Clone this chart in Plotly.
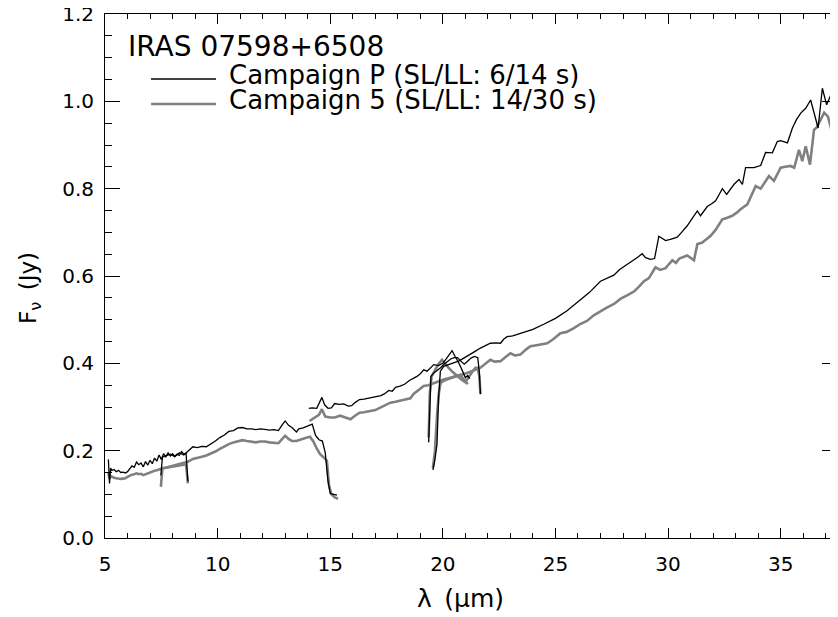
import plotly.graph_objects as go

# ---------------- data (wavelength in micron, flux in Jy) ----------------
# Campaign P (black)
wl_p_sl2 = [5.15, 5.20, 5.25, 5.3, 5.4, 5.5, 5.6, 5.7, 5.8, 5.9, 6.0, 6.1, 6.2, 6.3, 6.4, 6.5, 6.6, 6.7, 6.8, 6.9,
            7.0, 7.1, 7.2, 7.3, 7.4, 7.5, 7.6, 7.7, 7.8, 7.9, 8.0, 8.1, 8.2, 8.3, 8.4, 8.5, 8.6, 8.68]
fx_p_sl2 = [0.180, 0.125, 0.160, 0.155, 0.157, 0.152, 0.155, 0.150, 0.151, 0.149, 0.152, 0.158, 0.165, 0.162,
            0.174, 0.168, 0.172, 0.163, 0.175, 0.167, 0.178, 0.170, 0.183, 0.176, 0.190, 0.180, 0.193, 0.186,
            0.195, 0.188, 0.193, 0.187, 0.192, 0.189, 0.198, 0.192, 0.194, 0.130]

wl_p_sl1 = [7.48, 7.55, 7.7, 7.9, 8.1, 8.3, 8.5, 8.7, 8.9, 9.1, 9.3, 9.5, 9.7, 9.9, 10.1, 10.3, 10.5, 10.7, 10.9,
            11.1, 11.3, 11.5, 11.7, 11.9, 12.1, 12.3, 12.5, 12.7, 12.85, 13.0, 13.15, 13.3, 13.5, 13.6, 13.8,
            14.0, 14.2, 14.35, 14.5, 14.65, 14.78, 14.9, 15.0, 15.15, 15.3]
fx_p_sl1 = [0.143, 0.185, 0.188, 0.192, 0.186, 0.195, 0.190, 0.200, 0.209, 0.207, 0.210, 0.209, 0.215, 0.222,
            0.230, 0.236, 0.244, 0.246, 0.252, 0.253, 0.250, 0.250, 0.248, 0.250, 0.249, 0.247, 0.248, 0.246,
            0.258, 0.268, 0.258, 0.253, 0.243, 0.250, 0.252, 0.256, 0.261, 0.235, 0.225, 0.222, 0.195, 0.130,
            0.102, 0.100, 0.098]

wl_p_ll2 = [14.05, 14.2, 14.4, 14.52, 14.63, 14.75, 14.9, 15.05, 15.2, 15.4, 15.6, 15.8, 15.95, 16.1, 16.3, 16.5,
            16.7, 16.9, 17.1, 17.25, 17.4, 17.6, 17.75, 17.9, 18.1, 18.3, 18.5, 18.7, 18.85, 19.0, 19.15, 19.3,
            19.45, 19.6, 19.8, 20.0, 20.15, 20.3, 20.41, 20.55, 20.7, 20.85, 21.0, 21.1, 21.2]
fx_p_ll2 = [0.297, 0.298, 0.297, 0.310, 0.322, 0.305, 0.297, 0.298, 0.308, 0.306, 0.307, 0.302, 0.303, 0.310,
            0.317, 0.318, 0.320, 0.322, 0.324, 0.326, 0.330, 0.338, 0.336, 0.345, 0.348, 0.352, 0.360, 0.365,
            0.370, 0.376, 0.385, 0.382, 0.390, 0.397, 0.395, 0.400, 0.410, 0.420, 0.429, 0.415, 0.402, 0.385,
            0.367, 0.372, 0.365]

wl_p_ll3 = [19.37, 19.42, 19.47, 19.6, 19.75, 19.9, 20.05, 20.2, 20.35, 20.5, 20.65, 20.8, 20.95, 21.1, 21.25,
            21.4, 21.55, 21.62, 21.67]
fx_p_ll3 = [0.219, 0.330, 0.370, 0.378, 0.383, 0.390, 0.398, 0.404, 0.410, 0.413, 0.413, 0.405, 0.398, 0.405,
            0.412, 0.416, 0.413, 0.380, 0.329]

wl_p_ll1 = [19.56, 19.65, 19.74, 19.81, 19.89, 20.04, 20.25, 20.48, 20.7, 20.93, 21.22, 21.45, 21.67, 21.9,
            22.11, 22.35, 22.56, 22.7, 22.85, 23.1, 23.44, 23.7, 24.0, 24.5, 25.0, 25.5, 26.0, 26.5, 27.0, 27.3,
            27.59, 27.85, 28.11, 28.3, 28.48, 28.65, 28.85, 29.0, 29.22, 29.4, 29.59, 29.75, 29.89, 30.1, 30.41,
            30.6, 30.85, 31.05, 31.3, 31.44, 31.6, 31.74, 31.95, 32.11, 32.25, 32.41, 32.6, 32.75, 32.93, 33.15,
            33.3, 33.44, 33.6, 33.81, 34.11, 34.33, 34.63, 34.85, 35.0, 35.3, 35.52, 35.7, 35.89, 36.11, 36.33,
            36.48, 36.66, 36.85, 37.04, 37.22, 37.37, 37.52, 37.6]
fx_p_ll1 = [0.156, 0.180, 0.215, 0.321, 0.382, 0.393, 0.397, 0.401, 0.405, 0.412, 0.420, 0.428, 0.435, 0.440,
            0.446, 0.447, 0.446, 0.455, 0.461, 0.463, 0.469, 0.474, 0.478, 0.490, 0.503, 0.520, 0.540, 0.562,
            0.588, 0.595, 0.602, 0.615, 0.624, 0.630, 0.636, 0.643, 0.651, 0.642, 0.638, 0.640, 0.691, 0.686,
            0.681, 0.684, 0.689, 0.700, 0.715, 0.730, 0.749, 0.738, 0.750, 0.759, 0.766, 0.772, 0.785, 0.800,
            0.787, 0.798, 0.810, 0.821, 0.810, 0.848, 0.848, 0.848, 0.853, 0.883, 0.882, 0.908, 0.910, 0.905,
            0.939, 0.958, 0.973, 0.984, 1.003, 0.973, 0.939, 1.030, 0.992, 1.014, 1.022, 1.033, 1.065]

# Campaign 5 (grey)
wl_5_sl2 = [5.15, 5.2, 5.25, 5.3, 5.4, 5.5, 5.6, 5.7, 5.8, 5.9, 6.0, 6.1, 6.2, 6.3, 6.4, 6.5, 6.6, 6.7, 6.8, 6.9,
            7.0, 7.1, 7.2, 7.3, 7.4, 7.5, 7.6, 7.7, 7.8, 7.9, 8.0, 8.1, 8.2, 8.3, 8.4, 8.5, 8.6, 8.68]
fx_5_sl2 = [0.150, 0.135, 0.142, 0.140, 0.138, 0.137, 0.136, 0.135, 0.136, 0.137, 0.140, 0.143, 0.145, 0.146,
            0.148, 0.146, 0.147, 0.144, 0.146, 0.149, 0.150, 0.152, 0.154, 0.155, 0.157, 0.158, 0.160, 0.161,
            0.162, 0.162, 0.164, 0.165, 0.165, 0.166, 0.167, 0.168, 0.168, 0.125]

wl_5_sl1 = [7.48, 7.55, 7.7, 7.9, 8.1, 8.3, 8.5, 8.7, 8.9, 9.1, 9.3, 9.5, 9.7, 9.9, 10.1, 10.3, 10.5, 10.7, 10.9,
            11.1, 11.3, 11.5, 11.7, 11.9, 12.1, 12.3, 12.5, 12.7, 12.85, 13.0, 13.15, 13.3, 13.5, 13.7, 13.9,
            14.1, 14.25, 14.4, 14.55, 14.7, 14.85, 14.95, 15.05, 15.2, 15.35]
fx_5_sl1 = [0.117, 0.160, 0.161, 0.164, 0.166, 0.170, 0.172, 0.175, 0.181, 0.183, 0.186, 0.189, 0.193, 0.198,
            0.204, 0.210, 0.215, 0.219, 0.222, 0.224, 0.222, 0.220, 0.219, 0.221, 0.221, 0.219, 0.218, 0.217,
            0.226, 0.234, 0.227, 0.222, 0.222, 0.226, 0.229, 0.232, 0.221, 0.205, 0.192, 0.185, 0.177, 0.120,
            0.100, 0.093, 0.090]

wl_5_ll2 = [14.08, 14.3, 14.5, 14.63, 14.78, 15.0, 15.2, 15.44, 15.7, 15.9, 16.1, 16.3, 16.5, 16.8, 17.0, 17.2,
            17.45, 17.67, 17.9, 18.1, 18.35, 18.56, 18.7, 18.85, 19.0, 19.15, 19.35, 19.6, 19.8, 20.04, 20.25,
            20.48, 20.65, 20.78, 20.9, 21.0, 21.1]
fx_5_ll2 = [0.268, 0.276, 0.282, 0.295, 0.278, 0.276, 0.276, 0.280, 0.275, 0.272, 0.280, 0.287, 0.288, 0.291,
            0.293, 0.298, 0.305, 0.310, 0.312, 0.314, 0.318, 0.320, 0.330, 0.336, 0.342, 0.348, 0.350, 0.355,
            0.360, 0.363, 0.366, 0.370, 0.372, 0.374, 0.365, 0.360, 0.352]

wl_5_ll3 = [19.37, 19.42, 19.5, 19.65, 19.8, 19.96, 20.1, 20.25, 20.4, 20.55, 20.7, 20.85, 21.0, 21.15, 21.3,
            21.45, 21.55, 21.62, 21.67]
fx_5_ll3 = [0.230, 0.330, 0.370, 0.385, 0.398, 0.408, 0.398, 0.390, 0.382, 0.375, 0.370, 0.362, 0.357, 0.370,
            0.380, 0.390, 0.390, 0.370, 0.330]

wl_5_ll1 = [19.56, 19.65, 19.74, 19.82, 19.9, 20.04, 20.3, 20.6, 20.9, 21.2, 21.67, 21.9, 22.11, 22.3, 22.56,
            22.8, 23.0, 23.2, 23.44, 23.7, 23.89, 24.1, 24.35, 24.63, 24.9, 25.22, 25.5, 25.8, 26.1, 26.4, 26.7,
            27.0, 27.3, 27.6, 27.9, 28.2, 28.5, 28.7, 28.93, 29.15, 29.44, 29.65, 29.89, 30.05, 30.19, 30.35,
            30.5, 30.85, 31.15, 31.3, 31.5, 31.7, 31.89, 32.1, 32.25, 32.41, 32.6, 32.85, 33.05, 33.22, 33.52,
            33.7, 33.89, 34.11, 34.3, 34.48, 34.7, 35.0, 35.2, 35.44, 35.6, 35.81, 35.96, 36.11, 36.3, 36.48,
            36.6, 36.93, 37.1, 37.37, 37.55]
fx_5_ll1 = [0.160, 0.200, 0.280, 0.330, 0.355, 0.360, 0.365, 0.370, 0.375, 0.380, 0.390, 0.400, 0.408, 0.404,
            0.405, 0.415, 0.423, 0.418, 0.420, 0.432, 0.439, 0.441, 0.443, 0.446, 0.455, 0.469, 0.472, 0.480,
            0.490, 0.497, 0.510, 0.520, 0.528, 0.536, 0.548, 0.556, 0.565, 0.575, 0.588, 0.595, 0.620, 0.614,
            0.618, 0.628, 0.636, 0.630, 0.640, 0.647, 0.636, 0.673, 0.676, 0.684, 0.692, 0.705, 0.718, 0.730,
            0.733, 0.738, 0.745, 0.753, 0.764, 0.785, 0.806, 0.800, 0.815, 0.829, 0.818, 0.848, 0.850, 0.852,
            0.848, 0.889, 0.863, 0.897, 0.855, 0.935, 0.940, 0.974, 0.965, 0.911, 0.965]

x_ticks = [5, 10, 15, 20, 25, 30, 35]
y_ticks = [0.0, 0.2, 0.4, 0.6, 0.8, 1.0, 1.2]
y_tick_labels = ["0.0", "0.2", "0.4", "0.6", "0.8", "1.0", "1.2"]

object_name = "IRAS 07598+6508"
label_p = "Campaign P (SL/LL: 6/14 s)"
label_5 = "Campaign 5 (SL/LL: 14/30 s)"
x_title = "λ\u2002(μm)"
y_title = "F<sub>ν</sub>\u2002(Jy)"

# ---------------- figure ----------------
FONT = "DejaVu Sans"
GREY = "rgb(128,128,128)"
OFF = 8                              # page body margin offset in the browser
L, R, T, B = 105, 837, 14, 538       # plot area in screen pixels
W, H = 830, 609                      # figure size


def px(xs):
    return (xs - L) / (R - L)


def py(ys):
    return 1 - (ys - T) / (B - T)


fig = go.Figure()

grey_segments = [(wl_5_sl2, fx_5_sl2), (wl_5_sl1, fx_5_sl1), (wl_5_ll2, fx_5_ll2),
                 (wl_5_ll3, fx_5_ll3), (wl_5_ll1, fx_5_ll1)]
black_segments = [(wl_p_sl2, fx_p_sl2), (wl_p_sl1, fx_p_sl1), (wl_p_ll2, fx_p_ll2),
                  (wl_p_ll3, fx_p_ll3), (wl_p_ll1, fx_p_ll1)]

for wl, fx in grey_segments:
    fig.add_trace(go.Scatter(x=wl, y=fx, mode="lines", line=dict(color=GREY, width=2.6),
                             showlegend=False, hoverinfo="skip"))
for wl, fx in black_segments:
    fig.add_trace(go.Scatter(x=wl, y=fx, mode="lines", line=dict(color="black", width=1.3),
                             showlegend=False, hoverinfo="skip"))

axis_common = dict(showgrid=False, zeroline=False, showline=True, linecolor="black", linewidth=1,
                   mirror="ticks", ticks="inside", tickcolor="black", tickwidth=1, automargin=False,
                   ticklabeloverflow="allow",
                   tickfont=dict(family=FONT, size=20, color="black"))

fig.update_xaxes(range=[5, 37.5], tickvals=x_ticks, ticklen=10,
                 minor=dict(dtick=1, tick0=5, ticks="inside", ticklen=5, tickcolor="black", showgrid=False),
                 ticklabelstandoff=8, **axis_common)
fig.update_yaxes(range=[0, 1.2], tickvals=y_ticks, ticktext=y_tick_labels, ticklen=15,
                 minor=dict(dtick=0.05, tick0=0, ticks="inside", ticklen=7, tickcolor="black", showgrid=False),
                 ticklabelstandoff=6, **axis_common)

# axis titles
fig.add_annotation(xref="paper", yref="paper", x=px(460), y=py(598), xanchor="center", yanchor="middle",
                   text=x_title, showarrow=False, font=dict(family=FONT, size=25, color="black"))
fig.add_annotation(xref="paper", yref="paper", x=px(30), y=py(288), xanchor="center", yanchor="middle",
                   text=y_title, textangle=-90, showarrow=False,
                   font=dict(family=FONT, size=23, color="black"))

# legend drawn IDL-style inside the plot
fig.add_annotation(xref="paper", yref="paper", x=px(126), y=py(46),
                   xanchor="left", yanchor="middle", text=object_name, showarrow=False,
                   font=dict(family=FONT, size=28, color="black"))
fig.add_annotation(xref="paper", yref="paper", x=px(227), y=py(75),
                   xanchor="left", yanchor="middle", text=label_p, showarrow=False,
                   font=dict(family=FONT, size=26, color="black"))
fig.add_annotation(xref="paper", yref="paper", x=px(227), y=py(100),
                   xanchor="left", yanchor="middle", text=label_5, showarrow=False,
                   font=dict(family=FONT, size=26, color="black"))
fig.add_shape(type="line", xref="paper", yref="paper", x0=px(151), x1=px(216),
              y0=py(79), y1=py(79), line=dict(color="black", width=1.3))
fig.add_shape(type="line", xref="paper", yref="paper", x0=px(151), x1=px(216),
              y0=py(104), y1=py(104), line=dict(color=GREY, width=2.6))

fig.update_layout(width=W, height=H,
                  margin=dict(l=L - OFF, r=W - (R - OFF), t=T - OFF, b=H - (B - OFF)),
                  plot_bgcolor="white", paper_bgcolor="white",
                  font=dict(family=FONT, color="black"))

fig.write_html("out.html")
